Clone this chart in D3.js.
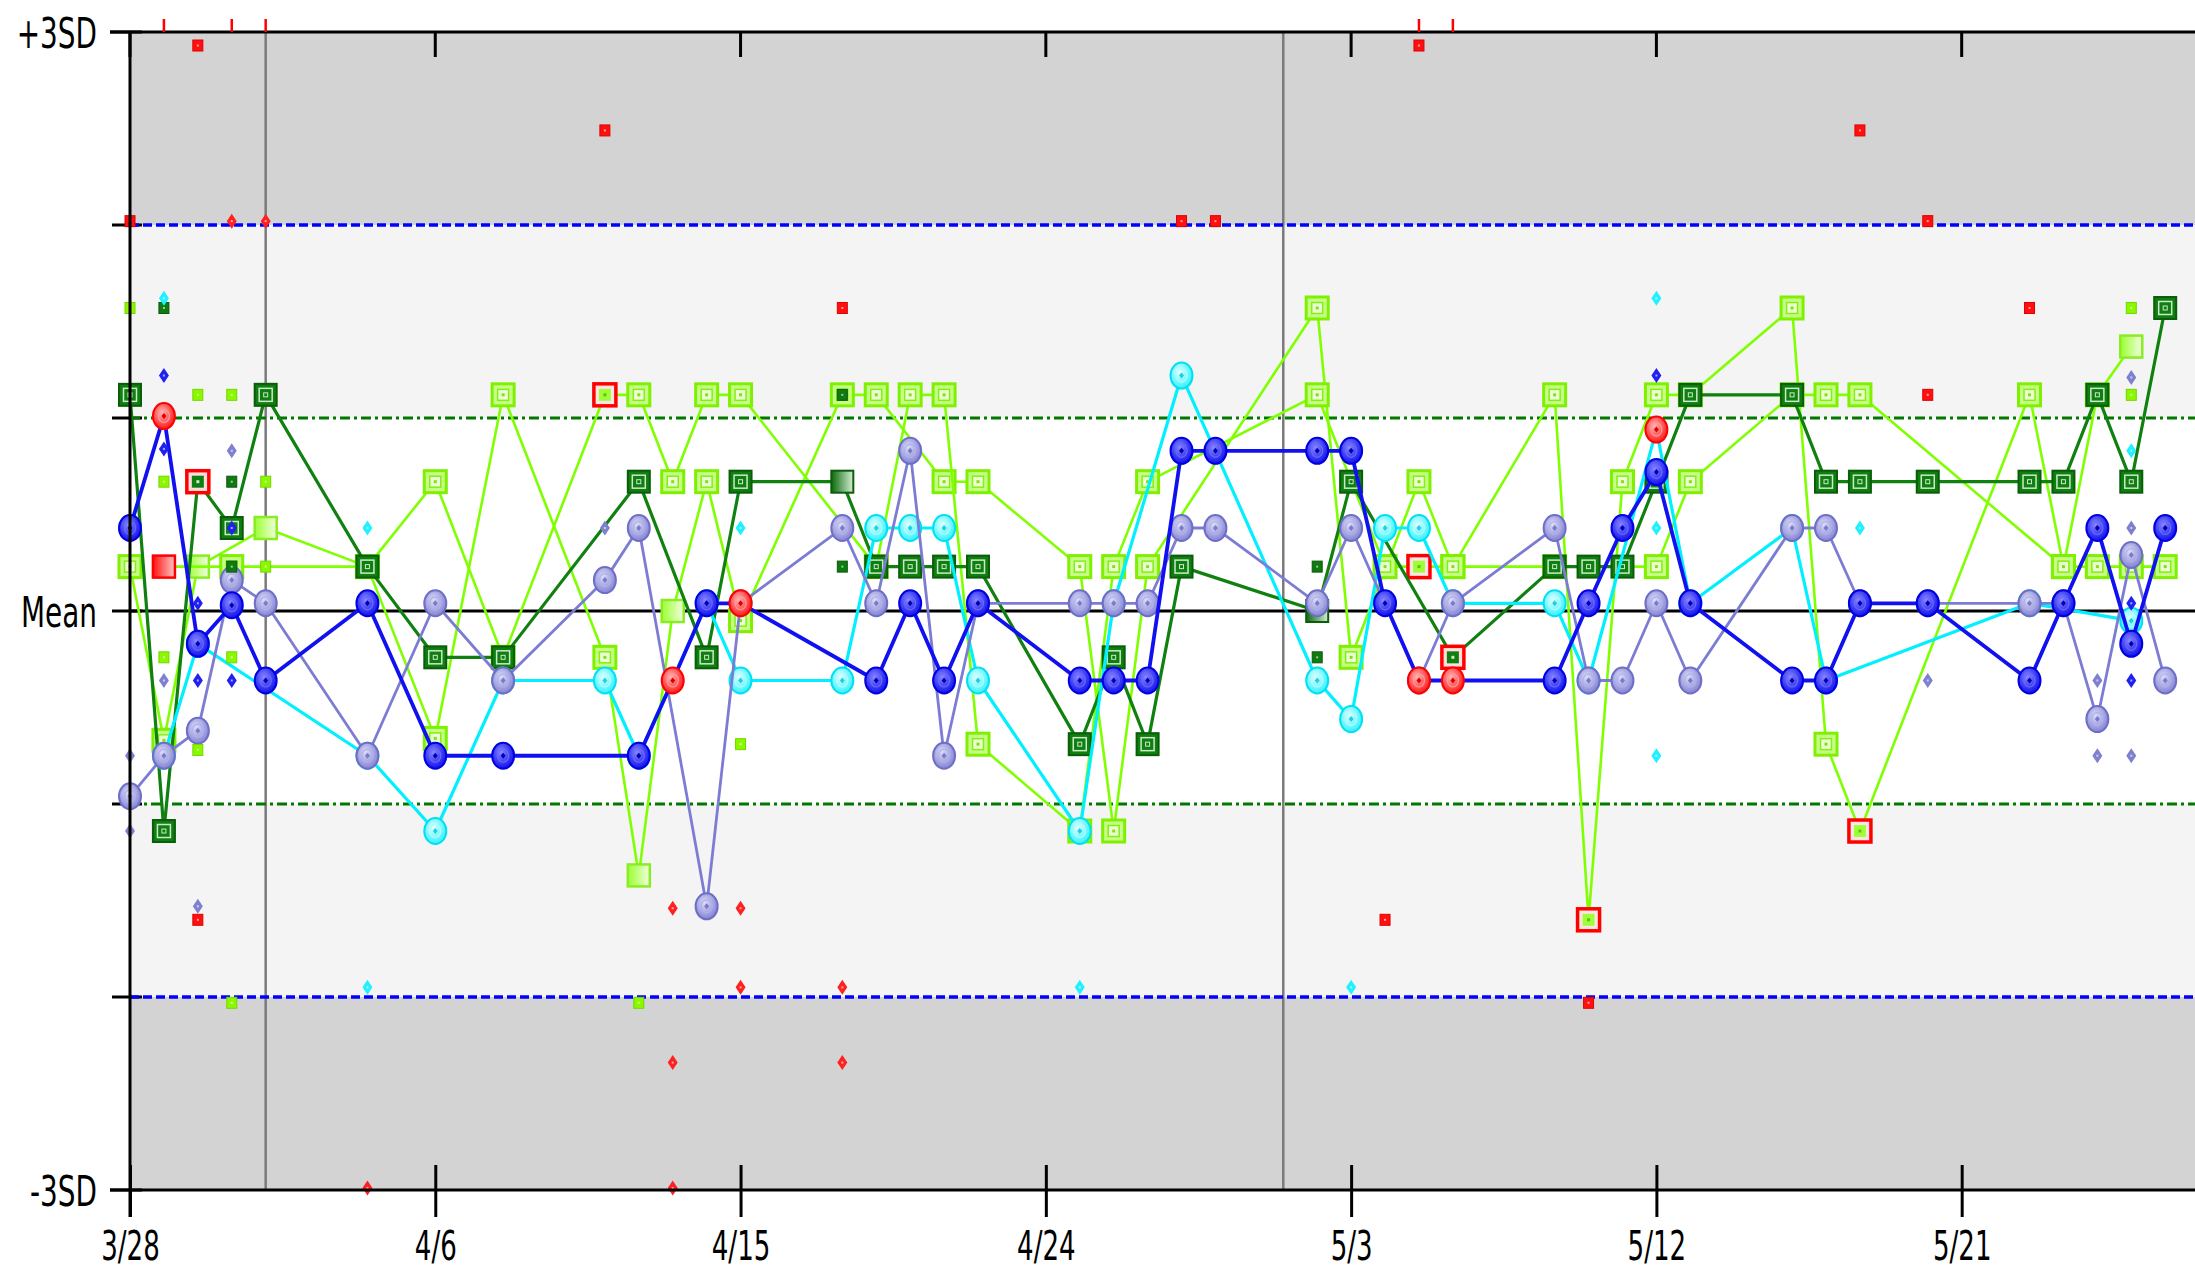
<!DOCTYPE html>
<html><head><meta charset="utf-8">
<script src="https://cdn.jsdelivr.net/npm/d3@7"></script>
<style>html,body{margin:0;padding:0;background:#fff;overflow:hidden}svg{display:block}</style>
</head><body>
<svg id="chart" width="2195" height="1272"></svg>
<script>
// ---------------- DATA ----------------
const startDate = [2009, 2, 28];           // 3/28
const tickDays = [0, 9, 18, 27, 36, 45, 54];
const yLevels = [3, 2, 1, 0, -1, -2, -3];
const yLabelText = { "3": "+3SD", "0": "Mean", "-3": "-3SD" };
const monthStartDays = [4, 34];

const dkGreenDays   = [0,1,2,3,4,7,9,11,15,17,18,21,22,23,24,25,28,29,30,31,35,36,39,42,43,44,45,46,49,50,51,53,56,57,58,59,60];
const dkGreenValues = [1.12,-1.14,0.67,0.43,1.12,0.23,-0.24,-0.24,0.67,-0.24,0.67,0.67,0.23,0.23,0.23,0.23,-0.69,-0.24,-0.69,0.23,0,0.67,-0.24,0.23,0.23,0.23,0.67,1.12,1.12,0.67,0.67,0.67,0.67,0.67,1.12,0.67,1.57];
const dkGreenFlagged = [2, 39];
const dkGreenPlain = [21, 35];

const limeADays   = [0,1,2,4,7,9,11,14,15,16,17,18,21,22,24,25,28,29,30,35,36,38,39,42,43,44,45,46,49,50,51,56,57,58,59];
const limeAValues = [0.23,-0.67,0.23,0.43,0.23,-0.66,1.12,-0.24,-1.37,0,0.67,-0.05,1.12,1.12,0.67,0.67,0.23,-1.14,0.23,1.57,-0.24,0.67,0.23,1.12,-1.6,0.67,1.12,1.12,1.57,-0.69,-1.14,1.12,0.23,1.12,1.37];
const limeAFlagged = [43, 51];
const limeAPlain = [2, 4, 15, 16, 59];

const limeBDays   = [1,3,7,9,11,14,15,16,17,18,22,23,24,25,28,29,30,35,37,38,39,42,45,46,49,50,51,57,58,59,60];
const limeBValues = [0.23,0.23,0.23,0.67,-0.24,1.12,1.12,0.67,1.12,1.12,0.23,1.12,1.12,-0.69,-1.14,0.23,0.67,1.12,0.23,0.23,0.23,0.23,0.23,0.67,1.12,1.12,1.12,0.23,0.23,0.23,0.23];
const limeBFlagged = [14, 38];
const limeBRejected = [1];

const blueDays   = [0,1,2,3,4,7,9,11,15,16,17,18,22,23,24,25,28,29,30,31,32,35,36,37,38,39,42,43,44,45,46,49,50,51,53,56,57,58,59,60];
const blueValues = [0.43,1.01,-0.17,0.03,-0.36,0.04,-0.75,-0.75,-0.75,-0.36,0.04,0.04,-0.36,0.04,-0.36,0.04,-0.36,-0.36,-0.36,0.83,0.83,0.83,0.83,0.04,-0.36,-0.36,-0.36,0.04,0.43,0.72,0.04,-0.36,-0.36,0.04,0.04,-0.36,0.04,0.43,-0.17,0.43];
const blueFlagged = [1, 16, 18, 38, 39];

const purpleDays   = [0,1,2,3,4,7,9,11,14,15,17,18,21,22,23,24,25,28,29,30,31,32,35,36,38,39,42,43,44,45,46,49,50,51,53,56,57,58,59,60];
const purpleValues = [-0.96,-0.75,-0.62,0.16,0.04,-0.75,0.04,-0.36,0.16,0.43,-1.53,0.04,0.43,0.04,0.83,-0.75,0.04,0.04,0.04,0.04,0.43,0.43,0.04,0.43,-0.36,0.04,0.43,-0.36,-0.36,0.04,-0.36,0.43,0.43,0.04,0.04,0.04,0.04,-0.56,0.29,-0.36];

const cyanDays   = [1,2,7,9,11,14,15,17,18,21,22,23,24,25,28,29,31,35,36,37,38,39,42,43,45,46,49,50,56,59];
const cyanValues = [-0.75,-0.17,-0.75,-1.14,-0.36,-0.36,-0.75,0.04,-0.36,-0.36,0.43,0.43,0.43,-0.36,-1.14,0.04,1.22,-0.36,-0.56,0.43,0.43,0.04,0.04,-0.36,0.94,0.04,0.43,-0.36,0.04,-0.05];
const cyanFlagged = [45];

const smallRedSquares   = [[0,2.02],[2,2.93],[14,2.49],[21,1.57],[31,2.02],[32,2.02],[38,2.93],[51,2.49],[53,2.02],[56,1.57],[53,1.12],[2,-1.6],[37,-1.6],[43,-2.03]];
const smallRedDiamonds  = [[3,2.02],[4,2.02],[16,-1.54],[18,-1.54],[18,-1.95],[21,-1.95],[16,-2.34],[21,-2.34],[16,-2.99],[7,-2.99]];
const offScaleRedDays   = [1, 3, 4, 38, 39];
const smallLimeSquares  = [[0,1.57],[2,1.12],[3,1.12],[1,0.67],[4,0.67],[4,0.23],[1,-0.24],[3,-0.24],[2,-0.72],[3,-2.03],[15,-2.03],[18,-0.69],[59,1.57],[59,1.12]];
const smallDkGreenSquares = [[1,1.57],[3,0.67],[3,0.23],[21,1.12],[21,0.23],[35,0.23],[35,-0.24]];
const smallBlueDiamonds = [[1,1.22],[1,0.84],[2,0.04],[2,-0.36],[3,-0.36],[3,0.43],[45,1.22],[59,0.04],[59,-0.36]];
const smallPurpleDiamonds = [[0,-0.75],[0,-1.14],[1,-0.36],[2,-1.53],[3,0.83],[14,0.43],[53,-0.36],[58,-0.36],[58,-0.75],[59,-0.75],[59,1.21],[59,0.43]];
const smallCyanDiamonds = [[1,1.62],[7,0.43],[7,-1.95],[18,0.43],[28,-1.95],[36,-1.95],[45,1.62],[45,0.43],[45,-0.75],[51,0.43],[59,0.83]];

// ---------------- SCALES ----------------
const W = 2195, H = 1272;
const plotLeft = 130, plotTop = 32, plotBottom = 1190, dayPx = 33.92;
const t0 = new Date(Date.UTC(startDate[0], startDate[1], startDate[2]));
const dayDate = d => d3.utcDay.offset(t0, d);
const x = d3.scaleUtc().domain([t0, dayDate(61)]).range([plotLeft, plotLeft + 61 * dayPx]);
const y = d3.scaleLinear().domain([-3, 3]).range([plotBottom, plotTop]);
const X = d => x(dayDate(d));

const svg = d3.select("#chart");
const FONT = "'DejaVu Sans Condensed','DejaVu Sans',sans-serif";

// gradients
const defs = svg.append("defs");
function radial(id, c0, c1) {
  const g = defs.append("radialGradient").attr("id", id).attr("cx", "45%").attr("cy", "40%").attr("r", "60%").attr("fx", "40%").attr("fy", "35%");
  g.append("stop").attr("offset", "0%").attr("stop-color", c0);
  g.append("stop").attr("offset", "100%").attr("stop-color", c1);
}
function linear(id, c0, c1) {
  const g = defs.append("linearGradient").attr("id", id).attr("x1", "0").attr("y1", "0").attr("x2", "1").attr("y2", "0");
  g.append("stop").attr("offset", "0%").attr("stop-color", c0);
  g.append("stop").attr("offset", "100%").attr("stop-color", c1);
}
radial("rBlue", "#8a8aff", "#1010ee");
radial("rPurple", "#dcdcf8", "#8484d4");
radial("rCyan", "#e8ffff", "#30f2ff");
radial("rRed", "#ffb8b8", "#ff1a1a");
linear("gDk", "#0a6a0a", "#d8eed8");
linear("gLime", "#9aff30", "#f2ffe2");
linear("gRed", "#ff1010", "#ffc8c8");

// ---------------- BACKGROUND ----------------
const bg = svg.append("g");
const bands = [[3, 2, "#d3d3d3"], [2, 1, "#f4f4f4"], [1, -1, "#ffffff"], [-1, -2, "#f4f4f4"], [-2, -3, "#d3d3d3"]];
bands.forEach(b => bg.append("rect").attr("x", plotLeft).attr("y", y(b[0])).attr("width", W - plotLeft).attr("height", y(b[1]) - y(b[0])).attr("fill", b[2]));

monthStartDays.forEach(d => bg.append("line").attr("x1", X(d)).attr("x2", X(d)).attr("y1", plotTop).attr("y2", plotBottom).attr("stroke", "#7a7a7a").attr("stroke-width", 2.5));

// y ticks
yLevels.forEach(v => bg.append("line").attr("x1", v === 3 || v === -3 ? 110 : 112).attr("x2", 142).attr("y1", y(v)).attr("y2", y(v)).attr("stroke", "#000").attr("stroke-width", 3));

// reference lines
[2, -2].forEach(v => bg.append("line").attr("x1", plotLeft).attr("x2", W).attr("y1", y(v)).attr("y2", y(v)).attr("stroke", "#0000ff").attr("stroke-width", 3.5).attr("stroke-dasharray", "9,4"));
[1, -1].forEach(v => bg.append("line").attr("x1", plotLeft).attr("x2", W).attr("y1", y(v)).attr("y2", y(v)).attr("stroke", "#007800").attr("stroke-width", 3).attr("stroke-dasharray", "10,4,3,4"));
bg.append("line").attr("x1", plotLeft).attr("x2", W).attr("y1", y(0)).attr("y2", y(0)).attr("stroke", "#000").attr("stroke-width", 3);

// x axis (bottom) with d3 axis
const xAxis = d3.axisBottom(x).tickValues(tickDays.map(dayDate)).tickFormat(d3.utcFormat("%-m/%-d")).tickSize(27).tickSizeOuter(0);
const gx = svg.append("g").attr("transform", `translate(0,${plotBottom})`).call(xAxis);
gx.select(".domain").remove();
gx.selectAll(".tick line").attr("stroke", "#000").attr("stroke-width", 3).attr("y1", -25);
gx.selectAll(".tick text").attr("font-family", FONT).attr("font-size", 29).attr("fill", "#000")
  .attr("y", 0).attr("dy", 0).attr("transform", "translate(0,56) scale(1,1.38)").attr("dominant-baseline", "central");
// top ticks
tickDays.forEach(d => bg.append("line").attr("x1", X(d)).attr("x2", X(d)).attr("y1", plotTop).attr("y2", plotTop + 25).attr("stroke", "#000").attr("stroke-width", 3));

// y labels
const yAxis = d3.axisLeft(y).tickValues([3, 0, -3]).tickFormat(v => yLabelText[String(v)]).tickSize(0).tickPadding(0);
const gy = svg.append("g").attr("transform", `translate(97,0)`).call(yAxis);
gy.select(".domain").remove();
gy.selectAll(".tick text").attr("font-family", FONT).attr("font-size", 31).attr("fill", "#000")
  .attr("x", 0).attr("dy", 0).attr("dominant-baseline", "central").attr("text-anchor", "end")
  .attr("transform", "scale(1,1.35)").attr("y", 0);
gy.selectAll(".tick").each(function (v) { d3.select(this).attr("transform", `translate(0,${y(v) + 2})`); });

// ---------------- MARKERS ----------------
const gData = svg.append("g");
const gFrame = svg.append("g");
const BS = 22;

function bigSquare(px, py, kind) {
  const g = gData.append("g").attr("transform", `translate(${px},${py})`);
  const r = (s, attrs) => { const e = g.append("rect").attr("x", -s / 2).attr("y", -s / 2).attr("width", s).attr("height", s); Object.entries(attrs).forEach(([k, v]) => e.attr(k, v)); return e; };
  if (kind === "dk") {
    r(BS, { fill: "#0f7f0f", stroke: "#0a5e0a", "stroke-width": 2 });
    r(13, { fill: "none", stroke: "#cde8cd", "stroke-width": 1.5 });
    r(4, { fill: "#0f7f0f", stroke: "#cde8cd", "stroke-width": 1 });
  } else if (kind === "dkPlain") {
    r(BS, { fill: "url(#gDk)", stroke: "#0a5e0a", "stroke-width": 2 });
  } else if (kind === "dkFlag") {
    r(BS, { fill: "#ffdede", stroke: "#ff0000", "stroke-width": 3.5 });
    r(12, { fill: "#0f7f0f", stroke: "none" });
    r(3, { fill: "#cde8cd" });
  } else if (kind === "lime") {
    r(BS, { fill: "#c6ff88", stroke: "#7ef000", "stroke-width": 3 });
    r(11, { fill: "#eaffd4", stroke: "#86ee10", "stroke-width": 1.5 });
    r(3, { fill: "#86e010" });
  } else if (kind === "limePlain") {
    r(BS, { fill: "url(#gLime)", stroke: "#88ee22", "stroke-width": 2.5 });
  } else if (kind === "limeFlag") {
    r(BS, { fill: "#ffe4e4", stroke: "#ff0000", "stroke-width": 3.5 });
    r(12, { fill: "#9cff3a", stroke: "none" });
    r(3, { fill: "#6cc000" });
  } else if (kind === "limeRed") {
    r(BS, { fill: "url(#gRed)", stroke: "#ff0000", "stroke-width": 2.5 });
  }
}
function circle(px, py, kind) {
  const g = gData.append("g").attr("transform", `translate(${px},${py})`);
  const styles = {
    blue: ["url(#rBlue)", "#0000e0", "#6a6aff", "#0000b0"],
    purple: ["url(#rPurple)", "#6e6ec8", "#b0b0ea", "#7a7acc"],
    cyan: ["url(#rCyan)", "#00e0f4", "#b0ffff", "#20d0e0"],
    red: ["url(#rRed)", "#ff0000", "#ff9a9a", "#e00000"]
  }[kind];
  g.append("ellipse").attr("rx", 11).attr("ry", 13).attr("fill", styles[0]).attr("stroke", styles[1]).attr("stroke-width", 2);
  g.append("ellipse").attr("rx", 5.5).attr("ry", 6.5).attr("fill", "none").attr("stroke", styles[2]).attr("stroke-width", 1.2);
  g.append("path").attr("d", "M0,-3L2.5,0L0,3L-2.5,0Z").attr("fill", styles[3]);
}
function smallSquare(px, py, fill, stroke) {
  gData.append("rect").attr("x", px - 5).attr("y", py - 5.5).attr("width", 10).attr("height", 11).attr("fill", fill).attr("stroke", stroke).attr("stroke-width", 1);
  gData.append("rect").attr("x", px - 1).attr("y", py - 1).attr("width", 2).attr("height", 2).attr("fill", "#ffffff").attr("opacity", 0.6);
}
function smallDiamond(px, py, fill) {
  gData.append("path").attr("transform", `translate(${px},${py})`).attr("d", "M0,-7.5L5,0L0,7.5L-5,0Z").attr("fill", fill);
  gData.append("rect").attr("x", px - 1).attr("y", py - 1).attr("width", 2).attr("height", 2).attr("fill", "#ffffff").attr("opacity", 0.6);
}

const line = d3.line().x(p => X(p.d)).y(p => y(p.v));
function drawSeries(days, values, color, width, markerKind) {
  const pts = days.map((d, i) => ({ d, v: values[i] }));
  gData.append("path").attr("d", line(pts)).attr("fill", "none").attr("stroke", color).attr("stroke-width", width).attr("stroke-linejoin", "round");
  pts.forEach(p => markerKind(p));
}

drawSeries(limeADays, limeAValues, "#80ff00", 2.6, p => bigSquare(X(p.d), y(p.v), limeAFlagged.includes(p.d) ? "limeFlag" : limeAPlain.includes(p.d) ? "limePlain" : "lime"));
drawSeries(limeBDays, limeBValues, "#80ff00", 2.6, p => bigSquare(X(p.d), y(p.v), limeBRejected.includes(p.d) ? "limeRed" : limeBFlagged.includes(p.d) ? "limeFlag" : "lime"));
drawSeries(dkGreenDays, dkGreenValues, "#108010", 3.2, p => bigSquare(X(p.d), y(p.v), dkGreenFlagged.includes(p.d) ? "dkFlag" : dkGreenPlain.includes(p.d) ? "dkPlain" : "dk"));
drawSeries(cyanDays, cyanValues, "#00f0ff", 3.2, p => circle(X(p.d), y(p.v), cyanFlagged.includes(p.d) ? "red" : "cyan"));
drawSeries(purpleDays, purpleValues, "#7c7cd4", 2.8, p => circle(X(p.d), y(p.v), "purple"));
drawSeries(blueDays, blueValues, "#1010f0", 3.8, p => circle(X(p.d), y(p.v), blueFlagged.includes(p.d) ? "red" : "blue"));

smallLimeSquares.forEach(([d, v]) => smallSquare(X(d), y(v), "#8cf800", "#70d800"));
smallDkGreenSquares.forEach(([d, v]) => smallSquare(X(d), y(v), "#0f7a0f", "#0a5a0a"));
smallRedSquares.forEach(([d, v]) => smallSquare(X(d), y(v), "#ff1010", "#e00000"));
smallRedDiamonds.forEach(([d, v]) => smallDiamond(X(d), y(v), "#ff2020"));
smallBlueDiamonds.forEach(([d, v]) => smallDiamond(X(d), y(v), "#2020f0"));
smallPurpleDiamonds.forEach(([d, v]) => smallDiamond(X(d), y(v), "#8080d0"));
smallCyanDiamonds.forEach(([d, v]) => smallDiamond(X(d), y(v), "#20f0ff"));

// frame lines on top
gFrame.append("line").attr("x1", 110).attr("x2", W).attr("y1", y(3)).attr("y2", y(3)).attr("stroke", "#000").attr("stroke-width", 3);
gFrame.append("line").attr("x1", 110).attr("x2", W).attr("y1", y(-3)).attr("y2", y(-3)).attr("stroke", "#000").attr("stroke-width", 3);
gFrame.append("line").attr("x1", plotLeft).attr("x2", plotLeft).attr("y1", plotTop).attr("y2", plotBottom + 27).attr("stroke", "#000").attr("stroke-width", 3);
offScaleRedDays.forEach(d => gFrame.append("line").attr("x1", X(d)).attr("x2", X(d)).attr("y1", plotTop - 13).attr("y2", plotTop).attr("stroke", "#ff0000").attr("stroke-width", 2.5));
</script>
</body></html>
